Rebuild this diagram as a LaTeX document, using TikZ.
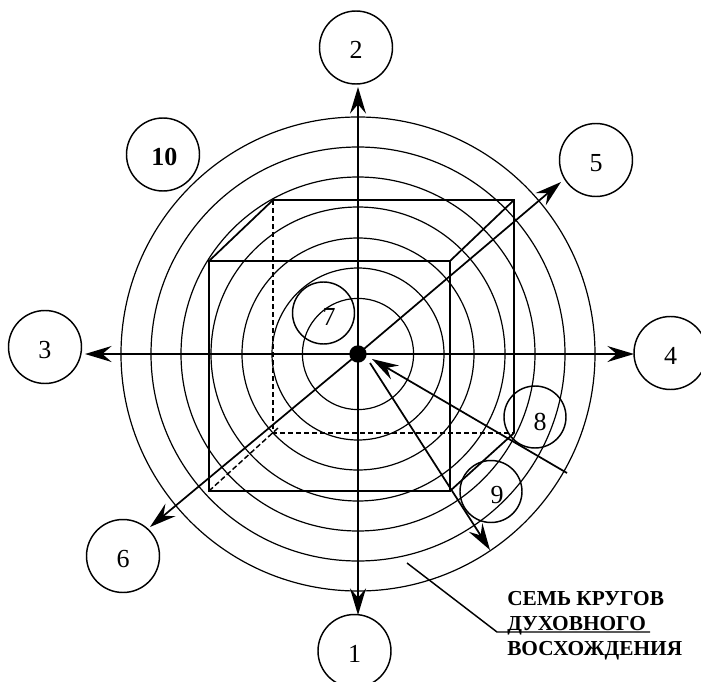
\documentclass[tikz,border=0pt]{standalone}
\usepackage{fontspec}
\setmainfont{Liberation Serif}
\usetikzlibrary{arrows.meta,positioning,calc}

\begin{document}
\begin{tikzpicture}[
  x=0.75pt,y=-0.75pt,
  ring/.style={draw,circle,line width=1.1pt,minimum size=54.75pt,inner sep=0pt,outer sep=0pt,
               text height=17pt,text depth=0pt,font=\fontsize{19.5}{21}\selectfont},
  smallring/.style={draw,circle,line width=1.1pt,minimum size=46.5pt,inner sep=0pt,outer sep=0pt},
  digit/.style={inner sep=0pt,font=\fontsize{19.5}{21}\selectfont},
  axis/.style={line width=1.3pt,-{Stealth[length=20pt,width=12pt,inset=7pt]}},
  edge/.style={line width=1.3pt},
  hidden/.style={line width=1.1pt,dash pattern=on 4pt off 2pt},
  caption/.style={anchor=base west,inner sep=0pt,font=\fontsize{16}{18}\selectfont\bfseries}
]
\useasboundingbox (0,0) rectangle (701,682);
\node[circle,fill=black,minimum size=13pt,inner sep=0pt] (hub) at (358,354) {};
\foreach \r in {55.6,86,116,147,177,207,237}
  \draw[line width=0.9pt] (hub.center) circle [radius=\r];

\coordinate (fa) at (209,261);
\coordinate (fb) at (450,261);
\coordinate (fc) at (450,491);
\coordinate (fd) at (209,491);
\coordinate (ba) at (273,200);
\coordinate (bb) at (514,200);
\coordinate (bc) at (514,433);
\coordinate (bd) at (273,433);
\coordinate (be) at (278,428);
\draw[edge] (fa) -- (fb) -- (fc) -- (fd) -- cycle;
\draw[edge] (fa) -- (ba) -- (bb) -- (bc) -- (fc);
\draw[edge] (fb) -- (bb);
\draw[hidden] (ba) -- (bd) -- (bc);
\draw[hidden] (fd) -- (be);

\node[ring] (two) at (356,47.5) {2};
\node[ring] (one) at (354.5,651) {1};
\node[ring] (three) at (45,347) {3};
\node[ring] (four) at (670.5,353) {4};
\node[ring] (five) at (596,160) {5};
\node[ring] (six) at (123,556) {6};
\node[ring] (ten) at (163,154.5) {\hspace{2pt}\textbf{10}};
\node[smallring] (seven) at (323.5,313) {};
\node[smallring] (eight) at (535,417) {};
\node[smallring] (nine) at (491,491.5) {};
\node[digit] (sevenlabel) at (329,317) {7};
\node[digit] (eightlabel) at (540,422) {8};
\node[digit] (ninelabel) at (497,495) {9};

\coordinate (tiptwo) at (358,87);
\coordinate (tipone) at (358,615);
\coordinate (tipthree) at (85,354);
\coordinate (tipfour) at (634,354);
\coordinate (tipfive) at (561,182);
\coordinate (tipsix) at (150,527);
\coordinate (tailnine) at (370,363);
\coordinate (tipnine) at (490,550);
\coordinate (tailback) at (567,473);
\coordinate (tiphub) at (372,359);
\draw[axis] (hub.center) -- (tiptwo);
\draw[axis] (hub.center) -- (tipone);
\draw[axis] (hub.center) -- (tipthree);
\draw[axis] (hub.center) -- (tipfour);
\draw[axis] (hub.center) -- (tipfive);
\draw[axis] (hub.center) -- (tipsix);
\draw[axis] (tailnine) -- (tipnine);
\draw[axis] (tailback) -- (tiphub);

\node[caption] (lineone) at (507,605.5) {СЕМЬ КРУГОВ};
\node[caption] (linetwo) at (507,630.5) {ДУХОВНОГО};
\node[caption] (linethree) at (507,655) {ВОСХОЖДЕНИЯ};
\coordinate (leadstart) at (407,563);
\coordinate (leadknee) at (497,632);
\coordinate (leadend) at (650,632);
\draw[line width=1.1pt] (leadstart) -- (leadknee) -- (leadend);
\end{tikzpicture}
\end{document}
